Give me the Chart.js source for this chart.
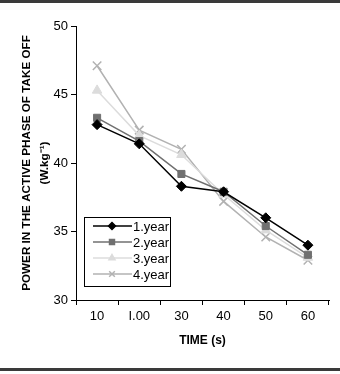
<!DOCTYPE html>
<html>
<head>
<meta charset="utf-8">
<script src="https://cdn.jsdelivr.net/npm/chart.js@4/dist/chart.umd.min.js"></script>
<style>
  html, body { margin: 0; padding: 0; background: #fff; }
  #wrap { position: relative; width: 340px; height: 374px; }
</style>
</head>
<body>
<div id="wrap"><canvas id="chart" width="340" height="374"></canvas></div>
<script>
const times = ['10', 'I.00', '30', '40', '50', '60'];
const year1 = [42.8, 41.4, 38.3, 37.9, 36.0, 34.0];
const year2 = [43.3, 41.6, 39.2, 37.9, 35.4, 33.3];
const year3 = [45.3, 42.0, 40.6, 37.7, 35.1, 33.1];
const year4 = [47.1, 42.4, 41.0, 37.2, 34.6, 32.9];
const seriesNames = ['1.year', '2.year', '3.year', '4.year'];
const yTicks = [30, 35, 40, 45, 50];

const font = 'Liberation Sans, Arial, sans-serif';

function makeSet(label, data, color, style, radius) {
    return {
        label: label,
        data: data,
        borderColor: color,
        backgroundColor: color,
        pointStyle: style,
        pointRadius: radius,
        pointBorderWidth: style === 'crossRot' ? 1.5 : 1,
        borderWidth: 1.5,
        tension: 0
    };
}

// frame lines top and bottom + legend inside the plot
const framePlugin = {
    id: 'frame',
    afterDraw(c) {
        const ctx = c.ctx;
        ctx.save();
        ctx.fillStyle = '#3a3a3a';
        ctx.fillRect(0, 0, 340, 3);
        ctx.fillRect(0, 368, 340, 3);

        // legend
        ctx.strokeStyle = '#000';
        ctx.lineWidth = 1;
        ctx.strokeRect(84.5, 217.5, 86, 69);
        const rows = [226, 242, 258, 274];
        c.data.datasets.forEach((ds, i) => {
            const y = rows[i];
            ctx.strokeStyle = ds.borderColor;
            ctx.lineWidth = 1.5;
            ctx.beginPath();
            ctx.moveTo(93, y);
            ctx.lineTo(132, y);
            ctx.stroke();
            ctx.fillStyle = ds.backgroundColor;
            Chart.helpers.drawPoint(ctx, {
                pointStyle: ds.pointStyle,
                radius: ds.pointStyle === 'crossRot' ? 4 : 3.5,
                borderWidth: ds.pointBorderWidth,
                rotation: 0
            }, 112, y);
            ctx.fillStyle = '#000';
            ctx.font = '13px ' + font;
            ctx.textBaseline = 'middle';
            ctx.textAlign = 'left';
            ctx.fillText(ds.label, 133, y + 1);
        });
        ctx.restore();
    }
};

new Chart(document.getElementById('chart').getContext('2d'), {
    type: 'line',
    data: {
        labels: times,
        datasets: [
            makeSet(seriesNames[0], year1, '#000000', 'rectRot', 5),
            makeSet(seriesNames[1], year2, '#707070', 'rect', 5),
            makeSet(seriesNames[2], year3, '#dcdcdc', 'triangle', 5.5),
            makeSet(seriesNames[3], year4, '#b2b2b2', 'crossRot', 6)
        ]
    },
    options: {
        responsive: false,
        animation: false,
        layout: { padding: { left: 0, top: 26, right: 11, bottom: 26 } },
        plugins: {
            legend: { display: false },
            tooltip: { enabled: false }
        },
        scales: {
            x: {
                offset: true,
                grid: { offset: true, drawOnChartArea: false, tickLength: 5, color: '#000' },
                border: { color: '#000', width: 1 },
                ticks: { color: '#000', font: { family: font, size: 13 }, padding: 4, maxRotation: 0 },
                title: { display: true, text: 'TIME (s)', color: '#000', font: { family: font, size: 12, weight: 'bold' }, padding: { top: 6, bottom: 0 } },
                afterFit(s) { s.height = 48; }
            },
            y: {
                min: 30,
                max: 50,
                afterBuildTicks(s) { s.ticks = yTicks.map(v => ({ value: v })); },
                grid: { drawOnChartArea: false, tickLength: 5, color: '#000' },
                border: { color: '#000', width: 1 },
                ticks: { color: '#000', font: { family: font, size: 13 }, padding: 3 },
                title: {
                    display: true,
                    text: ['POWER IN THE ACTIVE PHASE OF TAKE OFF', '(W.kg\u207B\u00B9)'],
                    color: '#000',
                    font: { family: font, size: 11.7, weight: 'bold', lineHeight: 1.55 },
                    padding: { top: 18, bottom: 0 }
                },
                afterFit(s) { s.width = 76; }
            }
        }
    },
    plugins: [framePlugin]
});
</script>
</body>
</html>
